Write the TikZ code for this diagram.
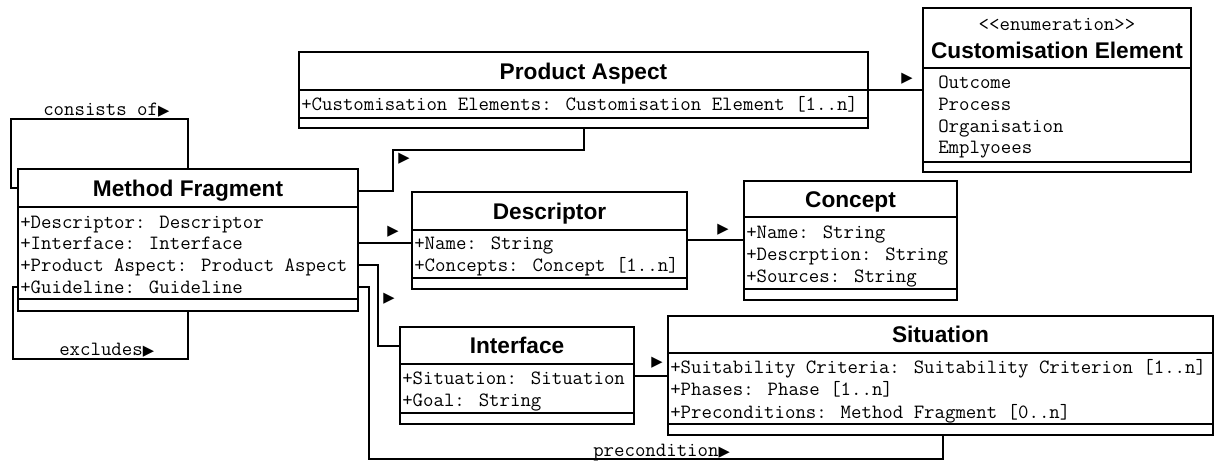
\documentclass[tikz,border=0pt]{standalone}
\usepackage{fontspec}
\setmainfont{Liberation Sans}
\newfontfamily\symfont{DejaVu Sans}
\usetikzlibrary{fit}

% UML class box: name, left, top, right, header bottom, attribute bottom, bottom
\newcommand\umlbox[7]{%
  \node[classbox, fit={(#2,#3) (#4,#7)}] (#1) {};
  \draw[sepline] (#1.west |- 0,#5) -- (#1.east |- 0,#5);
  \draw[sepline] (#1.west |- 0,#6) -- (#1.east |- 0,#6);
}
\newcommand\arrowglyph{{\symfont\fontsize{11}{11}\selectfont ▶}}

\tikzset{
  classbox/.style={draw, line width=1.5pt, inner sep=0pt, outer sep=0pt},
  sepline/.style={line width=1.5pt},
  ctitle/.style={font=\bfseries\fontsize{17}{20}\selectfont, anchor=base, inner sep=0pt},
  attr/.style={font=\ttfamily\fontsize{15.2}{16}\selectfont, anchor=base west, inner sep=0pt},
  assoc/.style={line width=1.5pt},
  dirmark/.style={font=\symfont\fontsize{11}{11}\selectfont, inner sep=0pt},
}

\begin{document}
\begin{tikzpicture}[x=0.75pt,y=-0.75pt]
\useasboundingbox (0,0) rectangle (1215,461);

% ---- classes ----
\umlbox{mf}{18}{169}{358}{207}{299}{311}
\node[ctitle] (mf-t) at (188,196) {Method Fragment};
\node[attr] (mf-a1) at (20,228) {+Descriptor: Descriptor};
\node[attr] (mf-a2) at (20,249.7) {+Interface: Interface};
\node[attr] (mf-a3) at (20,271.4) {+Product Aspect: Product Aspect};
\node[attr] (mf-a4) at (20,293) {+Guideline: Guideline};

\umlbox{pa}{299}{52}{868}{90}{118}{128}
\node[ctitle] (pa-t) at (583.5,79) {Product Aspect};
\node[attr] (pa-a1) at (301,110) {+Customisation Elements: Customisation Element [1..n]};

\umlbox{ce}{923}{8}{1191}{68}{162}{172}
\node[attr, anchor=base] (ce-st) at (1057,30) {{<}{<}enumeration{>}{>}};
\node[ctitle] (ce-t) at (1057,58) {Customisation Element};
\node[attr] (ce-a1) at (938,88) {Outcome};
\node[attr] (ce-a2) at (938,110) {Process};
\node[attr] (ce-a3) at (938,132) {Organisation};
\node[attr] (ce-a4) at (938,153) {Emplyoees};

\umlbox{desc}{412}{192}{687}{230}{278}{289}
\node[ctitle] (desc-t) at (549.5,219) {Descriptor};
\node[attr] (desc-a1) at (414,249) {+Name: String};
\node[attr] (desc-a2) at (414,271) {+Concepts: Concept [1..n]};

\umlbox{concept}{744}{181}{957}{217}{289}{300}
\node[ctitle] (concept-t) at (850.5,207) {Concept};
\node[attr] (concept-a1) at (746,238) {+Name: String};
\node[attr] (concept-a2) at (746,260) {+Descrption: String};
\node[attr] (concept-a3) at (746,282) {+Sources: String};

\umlbox{intf}{400}{327}{634}{364}{413}{424}
\node[ctitle] (intf-t) at (517,353.5) {Interface};
\node[attr] (intf-a1) at (402,384) {+Situation: Situation};
\node[attr] (intf-a2) at (402,406) {+Goal: String};

\umlbox{sit}{668}{316}{1213}{353}{424}{435}
\node[ctitle] (sit-t) at (940.5,342.5) {Situation};
\node[attr] (sit-a1) at (670,373) {+Suitability Criteria: Suitability Criterion [1..n]};
\node[attr] (sit-a2) at (670,395.5) {+Phases: Phase [1..n]};
\node[attr] (sit-a3) at (670,418) {+Preconditions: Method Fragment [0..n]};

% ---- associations ----
% self association: consists of
\draw[assoc] (mf.west |- 0,188) -| (11,119) -| (mf.north -| 188,0);
\node[attr] (lbl-consists) at (43,115) {consists of\arrowglyph};

% self association: excludes
\draw[assoc] (mf.west |- 0,287) -| (13,359) -| (mf.south -| 188,0);
\node[attr] (lbl-excludes) at (59,355) {excludes\arrowglyph};

% Method Fragment -> Product Aspect
\draw[assoc] (mf.east |- 0,191) -| (393,150) -| (pa.south -| 584,0);
\node[dirmark] (m-pa) at (404,159) {▶};

% Method Fragment -> Descriptor
\draw[assoc] (mf.east |- 0,243) -- (desc.west |- 0,243);
\node[dirmark] (m-desc) at (393,232) {▶};

% Method Fragment -> Interface
\draw[assoc] (mf.east |- 0,265) -| (378,346) -- (intf.west |- 0,346);
\node[dirmark] (m-intf) at (389,299) {▶};

% Method Fragment -> Situation: precondition
\draw[assoc] (mf.east |- 0,287) -| (369,459) -| (sit.south -| 943,0);
\node[attr] (lbl-precond) at (593,456) {precondition\arrowglyph};

% Product Aspect -> Customisation Element
\draw[assoc] (pa.east |- 0,90) -- (ce.west |- 0,90);
\node[dirmark] (m-ce) at (907,79) {▶};

% Descriptor -> Concept
\draw[assoc] (desc.east |- 0,240) -- (concept.west |- 0,240);
\node[dirmark] (m-concept) at (723,230) {▶};

% Interface -> Situation
\draw[assoc] (intf.east |- 0,376) -- (sit.west |- 0,376);
\node[dirmark] (m-sit) at (657,363) {▶};
\end{tikzpicture}
\end{document}
